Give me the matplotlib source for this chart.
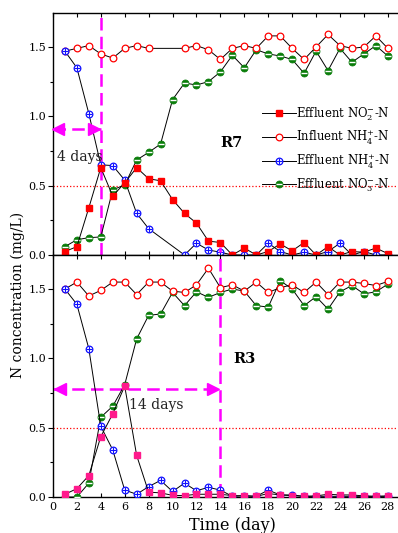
import numpy as np
import matplotlib
matplotlib.use("Agg")
import matplotlib.pyplot as plt
from matplotlib.ticker import MultipleLocator, FixedLocator
from matplotlib.lines import Line2D

plt.rcParams['font.family'] = ['DejaVu Serif']
plt.rcParams['mathtext.fontset'] = 'dejavuserif'

days_all = list(range(1, 29))
days_gap = [1, 2, 3, 4, 5, 6, 7, 8] + list(range(11, 29))

# ---- R7 (top panel) ----
r7_no2 = [0.025, 0.06, 0.34, 0.63, 0.425, 0.52, 0.63, 0.55, 0.535, 0.40, 0.30, 0.23, 0.10, 0.09,
          0.0, 0.05, 0.0, 0.025, 0.08, 0.03, 0.09, 0.0, 0.06, 0.0, 0.025, 0.02, 0.05, 0.01]
r7_inf_nh4 = [1.47, 1.49, 1.51, 1.45, 1.42, 1.49, 1.51, 1.49,
              1.49, 1.51, 1.48, 1.41, 1.49, 1.51, 1.49, 1.58, 1.58, 1.49, 1.41, 1.50, 1.59, 1.51,
              1.49, 1.50, 1.58, 1.49]
r7_eff_nh4 = [1.47, 1.35, 1.02, 0.65, 0.645, 0.54, 0.30, 0.19,
              0.0, 0.085, 0.036, 0.02, 0.0, 0.0, 0.0, 0.085, 0.025, 0.0, 0.02, 0.0, 0.025, 0.085,
              0.0, 0.025, 0.0, 0.0]
r7_no3 = [0.06, 0.11, 0.125, 0.13, 0.47, 0.505, 0.685, 0.74, 0.80, 1.12, 1.24, 1.226, 1.25, 1.32,
          1.44, 1.35, 1.48, 1.45, 1.435, 1.41, 1.31, 1.47, 1.33, 1.49, 1.39, 1.45, 1.51, 1.435]

# ---- R3 (bottom panel) ----
r3_no2 = [0.02, 0.06, 0.155, 0.435, 0.60, 0.80, 0.30, 0.035, 0.03, 0.012, 0.01, 0.02, 0.02, 0.02,
          0.01, 0.008, 0.005, 0.025, 0.015, 0.01, 0.005, 0.008, 0.02, 0.015, 0.015, 0.008, 0.005, 0.008]
r3_inf_nh4 = [1.50, 1.55, 1.45, 1.49, 1.55, 1.55, 1.46, 1.55, 1.55, 1.485, 1.475, 1.53, 1.65, 1.51,
              1.53, 1.485, 1.55, 1.475, 1.51, 1.53, 1.475, 1.55, 1.46, 1.55, 1.55, 1.54, 1.525, 1.555]
r3_eff_nh4 = [1.50, 1.39, 1.07, 0.51, 0.34, 0.05, 0.02, 0.075, 0.12, 0.04, 0.10, 0.045, 0.07, 0.05,
              0.005, 0.01, 0.005, 0.05, 0.015, 0.015, 0.005, 0.005, 0.005, 0.005, 0.005, 0.005, 0.005, 0.005]
r3_no3 = [0.0, 0.0, 0.10, 0.575, 0.655, 0.81, 1.14, 1.31, 1.32, 1.475, 1.38, 1.48, 1.44, 1.475,
          1.50, 1.485, 1.38, 1.37, 1.56, 1.50, 1.38, 1.445, 1.355, 1.48, 1.525, 1.465, 1.48, 1.535]

fig = plt.figure(figsize=(3.98, 5.33), dpi=100)
ax1 = fig.add_axes([0.133, 0.5216, 0.867, 0.454])
ax2 = fig.add_axes([0.133, 0.0675, 0.867, 0.454])

LW = 0.7
MS = 4.4
GREEN = '#0a7d0a'
BLUE = '#1010ff'
RED = '#ff0000'
PINK = '#ff1a8c'
MAG = '#ff00ff'


def draw_panel(ax, d_no2, no2, d_inf, inf, d_eff, eff, d_no3, no3, sqcolor):
    h_no3 = ax.plot(d_no3, no3, '-', color='black', lw=LW, marker='o', ms=MS + 0.6,
                    mfc=GREEN, mec=GREEN, mew=0.6, zorder=3)[0]
    ax.plot(d_no3, no3, ls='none', marker='_', ms=MS - 0.8, mec='white', mew=1.0, zorder=3.1)
    h_inf = ax.plot(d_inf, inf, '-', color='black', lw=LW, marker='o', ms=MS + 0.4,
                    mfc='white', mec=RED, mew=0.9, zorder=4)[0]
    h_eff = ax.plot(d_eff, eff, '-', color='black', lw=LW, marker='o', ms=MS + 0.4,
                    mfc='white', mec=BLUE, mew=0.9, zorder=5)[0]
    ax.plot(d_eff, eff, ls='none', marker='+', ms=MS + 0.4, mec=BLUE, mew=0.8, zorder=5.1)
    h_no2 = ax.plot(d_no2, no2, '-', color='black', lw=LW, marker='s', ms=MS,
                    mfc=sqcolor, mec=sqcolor, zorder=6)[0]
    return h_no2, h_inf, h_eff, h_no3


h = draw_panel(ax1, days_all, r7_no2, days_gap, r7_inf_nh4, days_gap, r7_eff_nh4,
               days_all, r7_no3, RED)
draw_panel(ax2, days_all, r3_no2, days_all, r3_inf_nh4, days_all, r3_eff_nh4,
           days_all, r3_no3, PINK)

for ax in (ax1, ax2):
    ax.set_xlim(0, 28.85)
    ax.set_ylim(0, 1.745)
    ax.axhline(0.5, color='red', ls=':', lw=0.9, zorder=1)
    ax.xaxis.set_major_locator(MultipleLocator(2))
    ax.xaxis.set_minor_locator(MultipleLocator(1))
    ax.yaxis.set_major_locator(FixedLocator([0, 0.5, 1.0, 1.5]))
    ax.yaxis.set_minor_locator(FixedLocator([0.25, 0.75, 1.25]))
    ax.set_yticklabels(['0.0', '0.5', '1.0', '1.5'])
    ax.tick_params(axis='x', which='both', direction='in', top=True, length=3, width=0.8,
                   labelsize=8)
    ax.tick_params(axis='x', which='minor', length=0)
    ax.tick_params(axis='y', which='major', direction='out', length=3.5, width=0.8, labelsize=8,
                   pad=1.5)
    ax.tick_params(axis='y', which='minor', direction='out', length=2, width=0.8)
    ax.spines['right'].set_visible(False)
    for s in ax.spines.values():
        s.set_linewidth(1.0)

ax1.tick_params(axis='x', labelbottom=False)

# Magenta guide lines and arrows
dash = (5, 2.5)
ax1.plot([4, 4], [0, 1.745], color=MAG, lw=1.8, dashes=dash, zorder=2)
ax1.plot([0, 4], [0.906, 0.906], color=MAG, lw=1.8, dashes=dash, zorder=2, clip_on=False)
ax1.plot([0.45], [0.906], marker='<', ms=9, color=MAG, mec=MAG, clip_on=False, zorder=7)
ax1.plot([3.4], [0.906], marker='>', ms=9, color=MAG, mec=MAG, clip_on=False, zorder=7)
ax1.text(0.35, 0.705, '4 days', fontsize=10, color='#222222', va='center', ha='left', zorder=8)
ax1.text(14.95, 0.805, 'R7', fontsize=10.5, fontweight='bold', va='center', ha='center')

ax2.plot([14, 14], [0.01, 1.80], color=MAG, lw=1.8, dashes=dash, zorder=2, clip_on=False)
ax2.plot([0, 14], [0.776, 0.776], color=MAG, lw=1.8, dashes=dash, zorder=2)
ax2.plot([0.55], [0.776], marker='<', ms=9, color=MAG, mec=MAG, clip_on=False, zorder=7)
ax2.plot([13.4], [0.776], marker='>', ms=9, color=MAG, mec=MAG, clip_on=False, zorder=7)
ax2.text(6.35, 0.66, '14 days', fontsize=10, color='#222222', va='center', ha='left', zorder=8)
ax2.text(16.05, 0.995, 'R3', fontsize=10.5, fontweight='bold', va='center', ha='center')

# Legend (top panel)
plus_h = Line2D([], [], ls='none', marker='+', ms=MS + 0.4, mec=BLUE, mew=0.8)
bar_h = Line2D([], [], ls='none', marker='_', ms=MS - 0.8, mec='white', mew=1.0)
labels = ['Effluent NO$_2^{-}$-N', 'Influent NH$_4^{+}$-N', 'Effluent NH$_4^{+}$-N',
          'Effluent NO$_3^{-}$-N']
leg = ax1.legend([h[0], h[1], (h[2], plus_h), (h[3], bar_h)], labels,
                 loc='upper left', bbox_to_anchor=(0.606, 0.618), frameon=False,
                 fontsize=8.4, handlelength=2.9, handletextpad=0.0, labelspacing=0.5,
                 borderaxespad=0, borderpad=0)

fig.text(0.045, 0.446, 'N concentration (mg/L)', rotation=90, fontsize=10, va='center', ha='center')
fig.text(0.583, 0.015, 'Time (day)', fontsize=11.5, va='center', ha='center')

fig.savefig('out.png', dpi=100)
